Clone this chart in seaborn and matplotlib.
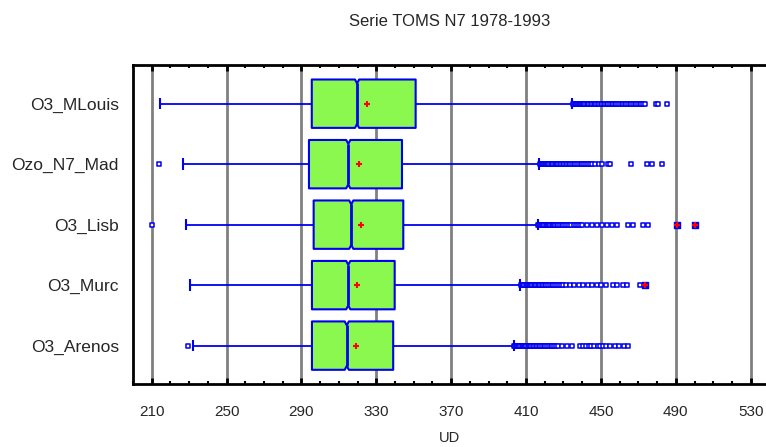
import matplotlib
matplotlib.use("Agg")
import matplotlib.pyplot as plt
from matplotlib.patches import Polygon
from matplotlib.ticker import MultipleLocator, FixedLocator
import numpy as np
import pandas as pd
import seaborn as sns

# Ozone column (Dobson units) summary per station, TOMS Nimbus-7 1978-1993
stations = ["O3_MLouis", "Ozo_N7_Mad", "O3_Lisb", "O3_Murc", "O3_Arenos"]
whisker_low = [214.6, 226.6, 228.3, 230.5, 231.9]
q1 = [295.5, 294.0, 296.5, 295.6, 295.6]
median = [319.7, 315.0, 316.6, 315.0, 314.2]
q3 = [351.0, 343.7, 344.4, 339.8, 339.0]
mean = [325.2, 320.7, 321.6, 319.8, 319.1]
whisker_high = [434.5, 417.1, 416.2, 406.7, 403.4]
notch_halfwidth = [1.1, 1.1, 1.1, 1.1, 1.1]

low_outliers = [[], [213.7], [210.0], [], [229.2]]
high_outliers = [
    [435.0, 435.5, 436.0, 436.5, 437.1, 437.6, 438.2, 438.7, 439.3, 439.9,
     440.5, 441.1, 441.7, 442.3, 443.0, 443.7, 444.5, 445.4, 446.1, 446.8,
     447.5, 448.2, 449.0, 449.8, 450.6, 451.4, 452.2, 453.0, 453.9, 454.8,
     455.7, 456.5, 457.4, 458.3, 459.1, 460.0, 461.0, 462.0, 462.8, 463.6,
     464.5, 465.4, 466.3, 467.2, 468.0, 469.0, 470.0, 470.8, 471.6, 472.5,
     473.4, 479.2, 480.6, 485.2],
    [417.5, 418.0, 418.5, 419.0, 419.5, 420.1, 420.7, 421.3, 421.9, 422.5,
     423.1, 423.8, 424.5, 425.2, 425.9, 426.6, 427.3, 428.0, 428.8, 429.6,
     430.4, 431.2, 432.0, 432.8, 433.7, 434.6, 435.5, 436.4, 437.3, 438.2,
     439.1, 440.0, 441.0, 442.0, 443.0, 444.0, 445.0, 447.0, 449.2, 450.4,
     453.6, 455.0, 465.9, 474.8, 477.5, 482.8],
    [416.6, 417.1, 417.6, 418.1, 418.6, 419.2, 419.8, 420.4, 421.0, 421.6,
     422.2, 422.9, 423.6, 424.3, 425.0, 425.7, 426.5, 427.3, 428.1, 429.0,
     430.0, 431.0, 432.0, 433.0, 434.2, 435.4, 436.6, 437.8, 439.0, 440.0,
     442.3, 445.0, 447.7, 450.4, 453.0, 455.7, 458.4, 464.6, 467.3, 472.6,
     475.3],
    [407.1, 407.6, 408.1, 408.6, 409.1, 409.7, 410.3, 410.9, 411.5, 412.1,
     412.7, 413.4, 414.1, 414.8, 415.5, 416.2, 416.9, 417.7, 418.5, 419.3,
     420.1, 420.9, 421.8, 422.7, 423.6, 424.5, 425.5, 426.5, 427.5, 428.6,
     429.7, 431.2, 433.5, 435.8, 438.3, 440.6, 442.9, 445.4, 447.7, 450.2,
     452.5, 456.6, 458.7, 461.6, 463.7, 470.8],
    [403.8, 404.3, 404.8, 405.3, 405.8, 406.4, 407.0, 407.6, 408.2, 408.8,
     409.4, 410.1, 410.8, 411.5, 412.2, 412.9, 413.6, 414.4, 415.2, 416.0,
     416.8, 417.6, 418.5, 419.4, 420.3, 421.2, 422.1, 423.1, 424.1, 425.1,
     426.2, 427.3, 429.0, 431.7, 434.4, 438.8, 440.3, 441.8, 443.4, 444.9,
     446.4, 448.2, 449.7, 451.2, 452.8, 454.8, 457.5, 459.8, 462.3, 464.6],
]
far_outliers = [[], [], [490.6, 500.0], [473.5], []]

x_ticks = [210, 250, 290, 330, 370, 410, 450, 490, 530]

sns.set_style("white")
plt.rcParams["font.family"] = ["Liberation Sans", "DejaVu Sans"]

BLUE = "#0000f0"
GREEN = "#8af84e"
RED = "#ff0000"

fig = plt.figure(figsize=(7.66, 4.47), dpi=100)
ax = fig.add_axes([0.1732, 0.1409, 0.8268, 0.7144])

pos = np.arange(len(stations))
half_h = 0.40
cap_h = 0.095
notch_depth = 0.065

for i, y in enumerate(pos):
    # whiskers and caps
    ax.hlines(y, whisker_low[i], q1[i], color=BLUE, lw=1.3, zorder=3)
    ax.hlines(y, q3[i], whisker_high[i], color=BLUE, lw=1.3, zorder=3)
    ax.vlines([whisker_low[i], whisker_high[i]], y - cap_h, y + cap_h,
              color=BLUE, lw=1.5, zorder=3)
    # notched box
    lo, hi = median[i] - notch_halfwidth[i], median[i] + notch_halfwidth[i]
    verts = [
        (q1[i], y - half_h), (lo, y - half_h), (median[i], y - half_h + notch_depth),
        (hi, y - half_h), (q3[i], y - half_h), (q3[i], y + half_h),
        (hi, y + half_h), (median[i], y + half_h - notch_depth), (lo, y + half_h),
        (q1[i], y + half_h),
    ]
    ax.add_patch(Polygon(verts, closed=True, facecolor=GREEN, edgecolor=BLUE,
                         lw=1.5, joinstyle="round", zorder=4))
    ax.vlines(median[i], y - half_h + notch_depth, y + half_h - notch_depth,
              color=BLUE, lw=2.0, zorder=5)

# outside points
rows = []
for i, name in enumerate(stations):
    for v in low_outliers[i] + high_outliers[i]:
        rows.append({"UD": v, "pos": pos[i]})
out_df = pd.DataFrame(rows)
sns.scatterplot(data=out_df, x="UD", y="pos", marker="s", s=9, color="white",
                edgecolor=BLUE, linewidth=1.1, ax=ax, zorder=6, legend=False)

far_rows = []
for i in range(len(stations)):
    for v in far_outliers[i]:
        far_rows.append({"UD": v, "pos": pos[i]})
far_df = pd.DataFrame(far_rows)
sns.scatterplot(data=far_df, x="UD", y="pos", marker="s", s=14, color=BLUE,
                edgecolor=BLUE, linewidth=1.0, ax=ax, zorder=6, legend=False)
sns.scatterplot(data=far_df, x="UD", y="pos", marker="+", s=20, color=RED,
                linewidth=1.5, ax=ax, zorder=7, legend=False)

# means
mean_df = pd.DataFrame({"UD": mean, "pos": pos})
sns.scatterplot(data=mean_df, x="UD", y="pos", marker="+", s=16, color=RED,
                linewidth=1.5, ax=ax, zorder=7, legend=False)

ax.set_xlim(199.8, 538.2)
ax.set_ylim(4.635, -0.645)
ax.xaxis.set_major_locator(FixedLocator(x_ticks))
ax.xaxis.set_minor_locator(MultipleLocator(10))
ax.set_xticklabels([str(t) for t in x_ticks])
ax.set_yticks(pos)
ax.set_yticklabels(stations)
ax.set_xlabel("")
ax.set_ylabel("")

ax.grid(axis="x", which="major", color="#808080", lw=2.0, zorder=0)
ax.grid(axis="y", visible=False)
ax.set_axisbelow(True)

for side in ["left", "top", "bottom"]:
    ax.spines[side].set_visible(True)
    ax.spines[side].set_color("black")
    ax.spines[side].set_linewidth(2.0)
ax.spines["right"].set_visible(False)

ax.tick_params(axis="x", which="major", direction="in", top=True, bottom=True,
               length=4, width=2.0, color="black", labelsize=11, pad=15)
ax.tick_params(axis="x", which="minor", direction="in", top=True, bottom=True,
               length=2.5, width=1.5, color="black")
ax.tick_params(axis="y", which="both", length=0, labelsize=12.5, pad=10)

fig.text(0.587, 1 - 22 / 447, "Serie TOMS N7 1978-1993", ha="center",
         va="center", fontsize=12)
fig.text(0.587, 1 - 438 / 447, "UD", ha="center", va="center", fontsize=10.5)

fig.savefig("out.png", dpi=100)
